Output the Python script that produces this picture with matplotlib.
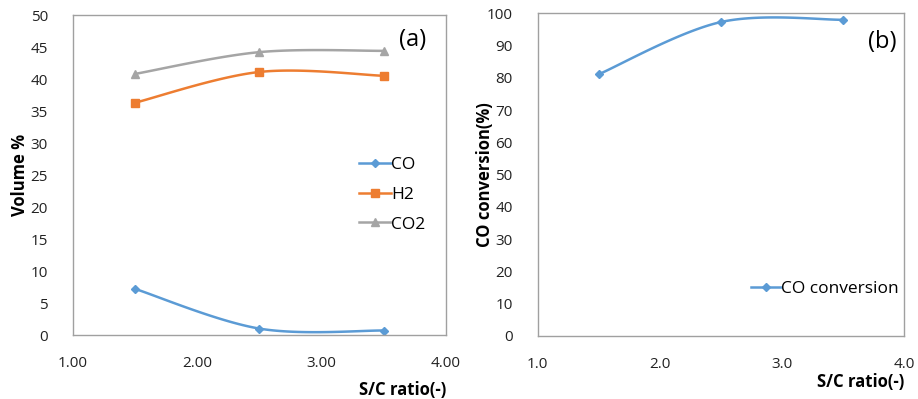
import numpy as np
import matplotlib
matplotlib.use("Agg")
import matplotlib.pyplot as plt

sc_ratio = [1.5, 2.5, 3.5]
co_vol = [7.2, 1.0, 0.7]
h2_vol = [36.3, 41.1, 40.5]
co2_vol = [40.8, 44.2, 44.4]
co_conv = [81.1, 97.3, 98.0]

left_xticks = [1.0, 2.0, 3.0, 4.0]
left_xlabels = ["1.00", "2.00", "3.00", "4.00"]
left_yticks = list(range(0, 51, 5))
right_xticks = [1.0, 2.0, 3.0, 4.0]
right_xlabels = ["1.0", "2.0", "3.0", "4.0"]
right_yticks = list(range(0, 101, 10))

plt.rcParams['font.family'] = ['Open Sans', 'DejaVu Sans']

def excel_smooth(x, y, n=40):
    x = np.asarray(x, float); y = np.asarray(y, float)
    P = np.column_stack([x, y])
    out = [P[0]]
    m = len(P)
    for i in range(m - 1):
        p0 = P[i - 1] if i > 0 else P[i]
        p1 = P[i]; p2 = P[i + 1]
        p3 = P[i + 2] if i + 2 < m else P[i + 1]
        c1 = p1 + (p2 - p0) / 6.0
        c2 = p2 - (p3 - p1) / 6.0
        t = np.linspace(0, 1, n)[1:, None]
        seg = ((1 - t) ** 3) * p1 + 3 * ((1 - t) ** 2) * t * c1 + 3 * (1 - t) * t ** 2 * c2 + t ** 3 * p2
        out.extend(seg)
    out = np.array(out)
    return out[:, 0], out[:, 1]

BLUE = "#5B9BD5"; ORANGE = "#ED7D31"; GRAY = "#A5A5A5"
SPINE = "#A0A0A0"
FS = 11
LFS = 12.5
AFS = 12

fig = plt.figure(figsize=(9.18, 3.99), dpi=100)
ax1 = fig.add_axes([0.0795, 0.1604, 0.4063, 0.802])
ax2 = fig.add_axes([0.5857, 0.1586, 0.3993, 0.808])

def style(ax):
    for s in ax.spines.values():
        s.set_color(SPINE)
        s.set_linewidth(1.0)
    ax.tick_params(length=0, labelsize=FS, colors="#222222")

for vals, col, mk, ms, lab in [(co_vol, BLUE, "D", 4.5, "CO"),
                                (h2_vol, ORANGE, "s", 6, "H2"),
                                (co2_vol, GRAY, "^", 6, "CO2")]:
    sx, sy = excel_smooth(sc_ratio, vals)
    ax1.plot(sx, sy, color=col, lw=1.8)
    ax1.plot(sc_ratio, vals, ls="none", marker=mk, ms=ms, color=col)
    ax1.plot([], [], color=col, lw=1.8, marker=mk, ms=ms, label=lab)

ax1.set_xlim(1.0, 4.0); ax1.set_ylim(0, 50)
ax1.set_xticks(left_xticks); ax1.set_xticklabels(left_xlabels)
ax1.set_yticks(left_yticks)
style(ax1)
ax1.tick_params(axis="x", pad=15)
ax1.tick_params(axis="y", pad=18)
ax1.set_ylabel("Volume %", fontsize=AFS, fontweight="bold", labelpad=1)
ax1.set_xlabel("S/C ratio(-)", fontsize=AFS, fontweight="bold", loc="right", labelpad=7)
ax1.text(0.91, 0.922, "(a)", transform=ax1.transAxes, fontsize=17, ha="center", va="center")
leg1 = ax1.legend(loc="upper left", bbox_to_anchor=(0.748, 0.578), frameon=False, fontsize=LFS,
                  handlelength=1.85, handletextpad=0.0, labelspacing=0.78, borderaxespad=0)

sx, sy = excel_smooth(sc_ratio, co_conv)
ax2.plot(sx, sy, color=BLUE, lw=1.8)
ax2.plot(sc_ratio, co_conv, ls="none", marker="D", ms=4.5, color=BLUE)
ax2.plot([], [], color=BLUE, lw=1.8, marker="D", ms=4.5, label="CO conversion")
ax2.set_xlim(1.0, 4.0); ax2.set_ylim(0, 100)
ax2.set_xticks(right_xticks); ax2.set_xticklabels(right_xlabels)
ax2.set_yticks(right_yticks)
style(ax2)
ax2.tick_params(axis="x", pad=15)
ax2.tick_params(axis="y", pad=18)
ax2.set_ylabel("CO conversion(%)", fontsize=AFS, fontweight="bold", labelpad=-5)
ax2.set_xlabel("S/C ratio(-)", fontsize=AFS, fontweight="bold", loc="right", labelpad=1)
ax2.text(0.94, 0.912, "(b)", transform=ax2.transAxes, fontsize=17, ha="center", va="center")
ax2.legend(loc="upper left", bbox_to_anchor=(0.563, 0.191), frameon=False, fontsize=LFS,
           handlelength=1.72, handletextpad=0.0, borderaxespad=0)

fig.savefig("out.png", dpi=100)
